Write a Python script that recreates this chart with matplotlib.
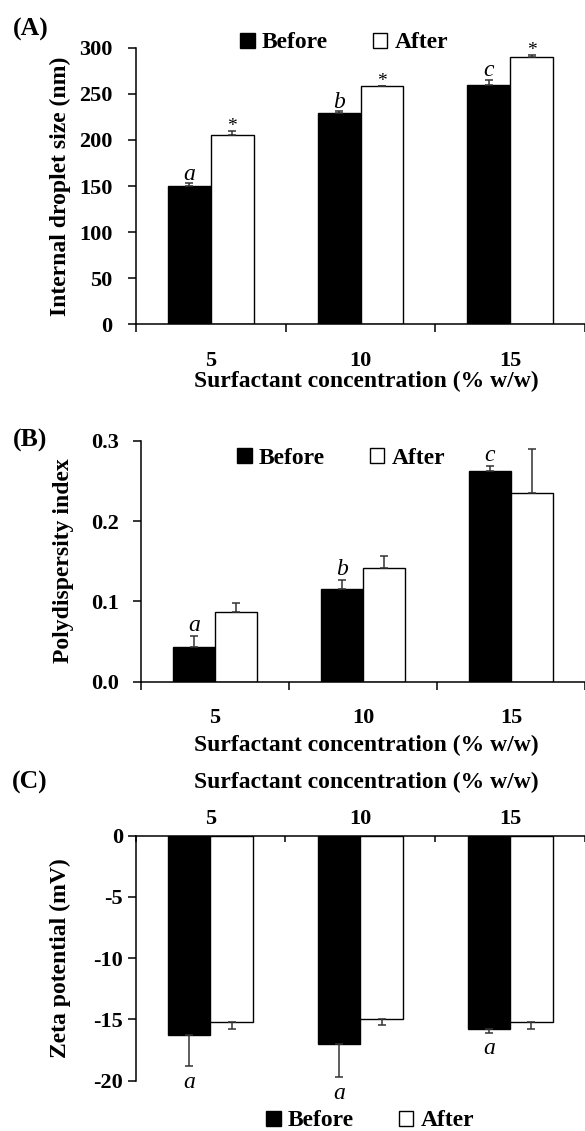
import numpy as np
import matplotlib
matplotlib.use("Agg")
import matplotlib.pyplot as plt
from matplotlib.patches import Patch

plt.rcParams['font.family'] = ['Liberation Serif', 'DejaVu Serif']
plt.rcParams['font.weight'] = 'bold'
plt.rcParams['axes.labelweight'] = 'bold'
plt.rcParams['axes.linewidth'] = 1.1

# Data
conc = ['5', '10', '15']

size_before = [150, 229, 260]
size_before_err = [3, 2, 5]
size_after = [205.5, 258, 290]
size_after_err = [4, 1, 2]
size_letters = ['a', 'b', 'c']

pdi_before = [0.043, 0.116, 0.262]
pdi_before_err = [0.014, 0.010, 0.007]
pdi_after = [0.087, 0.142, 0.235]
pdi_after_err = [0.011, 0.015, 0.055]
pdi_letters = ['a', 'b', 'c']

zeta_before = [-16.3, -17.0, -15.8]
zeta_before_err = [2.5, 2.7, 0.27]
zeta_after = [-15.2, -15.0, -15.2]
zeta_after_err = [0.55, 0.45, 0.55]
zeta_letters = ['a', 'a', 'a']

FS = 16      # tick labels
LFS = 17     # axis labels, legend
xlab = 'Surfactant concentration (% w/w)'
W, H = 585, 1131

fig = plt.figure(figsize=(W / 100, H / 100), dpi=100)


def px(x0, y0, x1, y1):
    # pixel box (left, top, right, bottom) -> figure fraction rect
    return [x0 / W, 1 - y1 / H, (x1 - x0) / W, (y1 - y0) / H]


def bars(ax, before, berr, after, aerr, bw, down=False):
    x = np.arange(len(conc))
    ekw = dict(ecolor='#333333', elinewidth=1.1, capsize=3, capthick=1.1)
    if down:
        be = [berr, np.zeros(3)]
        ae = [aerr, np.zeros(3)]
    else:
        be = [np.zeros(3), berr]
        ae = [np.zeros(3), aerr]
    ax.bar(x - bw / 2, before, bw, color='black', edgecolor='black', lw=1,
           yerr=be, error_kw=ekw, zorder=2)
    ax.bar(x + bw / 2, after, bw, color='white', edgecolor='black', lw=1,
           yerr=ae, error_kw=ekw, zorder=2)
    return x


def legend(ax, cx, cy):
    h = [Patch(facecolor='black', edgecolor='black'),
         Patch(facecolor='white', edgecolor='black')]
    ax.legend(h, ['Before', 'After'], loc='center', ncol=2, frameon=False,
              bbox_to_anchor=(cx / W, 1 - cy / H), bbox_transform=fig.transFigure,
              handlelength=0.62, handleheight=0.62, handletextpad=0.3,
              columnspacing=1.9, prop=dict(size=LFS, weight='bold'))


def cat_axis(ax, x):
    ax.set_xticks(np.arange(-0.5, len(conc), 1.0))
    ax.set_xticklabels([])
    ax.set_xticks(x, minor=True)
    ax.set_xticklabels(conc, minor=True, fontsize=FS)


# ---------------- (A) ----------------
axA = fig.add_axes(px(136, 47.7, 585, 324.3))
x = bars(axA, size_before, size_before_err, size_after, size_after_err, 0.287)
axA.set_ylim(0, 300)
axA.set_xlim(-0.5, 2.49)
axA.set_yticks(np.arange(0, 301, 50))
axA.tick_params(axis='y', labelsize=FS, length=6, width=1.1, pad=11)
cat_axis(axA, x)
axA.tick_params(axis='x', which='major', length=6, width=1.1, direction='out')
axA.tick_params(axis='x', which='minor', length=0, pad=19)
for s in ['top', 'right']:
    axA.spines[s].set_visible(False)
for i in x:
    axA.annotate(size_letters[i], (i - 0.1435, size_before[i] + size_before_err[i]),
                 xytext=(0, -1), textcoords='offset points', ha='center', va='bottom',
                 fontsize=LFS, style='italic', weight='normal')
    axA.annotate('*', (i + 0.1435, size_after[i] + size_after_err[i]),
                 xytext=(0, -3), textcoords='offset points', ha='center', va='bottom',
                 fontsize=FS - 2, weight='normal')
axA.set_ylabel('Internal droplet size (nm)', fontsize=LFS)
axA.yaxis.set_label_coords(60 / W, 1 - 186 / H, transform=fig.transFigure)
axA.yaxis.label.set_va('center')
axA.set_xlabel(xlab, fontsize=LFS)
axA.xaxis.set_label_coords(366 / W, 1 - 381 / H, transform=fig.transFigure)
axA.xaxis.label.set_va('center')
legend(axA, 344, 43)
fig.text(31 / W, 1 - 29 / H, '(A)', fontsize=18.5, ha='center', va='center')

# ---------------- (B) ----------------
axB = fig.add_axes(px(141, 440.7, 585, 681.7))
x = bars(axB, pdi_before, pdi_before_err, pdi_after, pdi_after_err, 0.287)
axB.set_ylim(0, 0.3)
axB.set_xlim(-0.5, 2.45)
axB.set_yticks([0, 0.1, 0.2, 0.3])
axB.set_yticklabels(['0.0', '0.1', '0.2', '0.3'])
axB.tick_params(axis='y', labelsize=FS, length=6, width=1.1, pad=10)
cat_axis(axB, x)
axB.tick_params(axis='x', which='major', length=6, width=1.1, direction='out')
axB.tick_params(axis='x', which='minor', length=0, pad=19)
for s in ['top', 'right']:
    axB.spines[s].set_visible(False)
for i in x:
    axB.annotate(pdi_letters[i], (i - 0.1435, pdi_before[i] + pdi_before_err[i]),
                 xytext=(0, 0), textcoords='offset points', ha='center', va='bottom',
                 fontsize=LFS, style='italic', weight='normal')
axB.set_ylabel('Polydispersity index', fontsize=LFS)
axB.yaxis.set_label_coords(63 / W, 1 - 561 / H, transform=fig.transFigure)
axB.yaxis.label.set_va('center')
axB.set_xlabel(xlab, fontsize=LFS)
axB.xaxis.set_label_coords(366 / W, 1 - 745 / H, transform=fig.transFigure)
axB.xaxis.label.set_va('center')
legend(axB, 341, 458)
fig.text(30 / W, 1 - 440 / H, '(B)', fontsize=18.5, ha='center', va='center')

# ---------------- (C) ----------------
axC = fig.add_axes(px(135.5, 835.5, 585, 1080.7))
x = bars(axC, zeta_before, zeta_before_err, zeta_after, zeta_after_err, 0.284, down=True)
axC.set_ylim(-20, 0)
axC.set_xlim(-0.5, 2.46)
axC.set_yticks([0, -5, -10, -15, -20])
axC.set_yticklabels(['0', '-5', '-10', '-15', '-20'])
axC.tick_params(axis='y', labelsize=FS, length=6, width=1.1, pad=3)
axC.xaxis.tick_top()
axC.xaxis.set_label_position('top')
cat_axis(axC, x)
axC.tick_params(axis='x', which='major', length=4, width=1.1, direction='in',
                top=True, bottom=False)
axC.tick_params(axis='x', which='minor', length=0, pad=5, top=True, bottom=False)
for s in ['bottom', 'right']:
    axC.spines[s].set_visible(False)
for i in x:
    axC.annotate(zeta_letters[i], (i - 0.142, zeta_before[i] - zeta_before_err[i]),
                 xytext=(0, -4), textcoords='offset points', ha='center', va='top',
                 fontsize=LFS, style='italic', weight='normal')
axC.set_ylabel('Zeta potential (mV)', fontsize=LFS)
axC.yaxis.set_label_coords(60 / W, 1 - 958 / H, transform=fig.transFigure)
axC.yaxis.label.set_va('center')
axC.set_xlabel(xlab, fontsize=LFS)
axC.xaxis.set_label_coords(366 / W, 1 - 782 / H, transform=fig.transFigure)
axC.xaxis.label.set_va('center')
legend(axC, 370, 1121)
fig.text(30 / W, 1 - 782 / H, '(C)', fontsize=18.5, ha='center', va='center')

fig.savefig('out.png', dpi=100)
